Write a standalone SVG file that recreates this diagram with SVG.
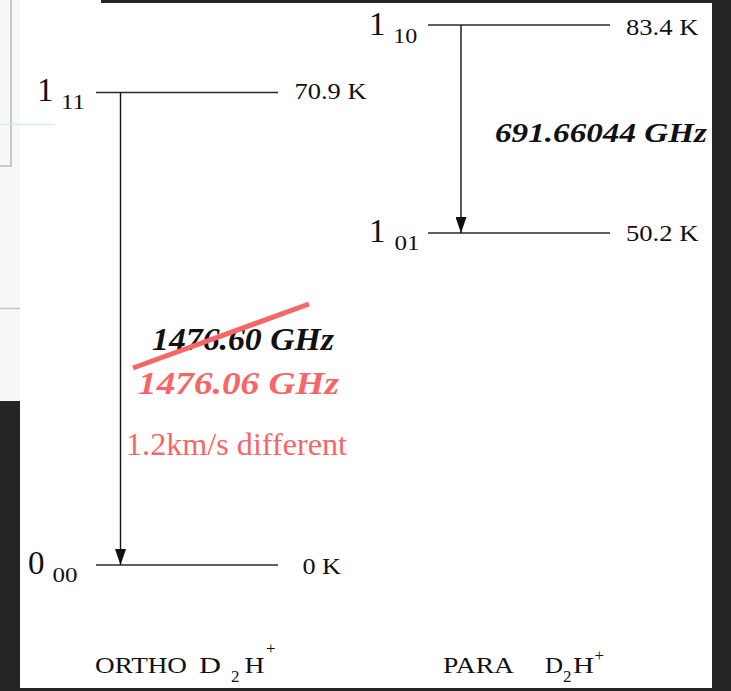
<svg xmlns="http://www.w3.org/2000/svg" width="731" height="691" viewBox="0 0 731 691">
<defs>
<style>
.t{font-family:"Liberation Serif","Times New Roman",serif;fill:#111}
.big{font-size:33px}
.sub{font-size:20px}
.val{font-size:24px}
.bi{font-weight:bold;font-style:italic}
.red{fill:#f76666}
.lvl{stroke:#2a2a2a;stroke-width:1.3;fill:none}
.arr{stroke:#111;stroke-width:1.4;fill:none}
.lbl{font-size:24px}
.ss{font-size:17px}
</style>
<marker id="ah" markerUnits="userSpaceOnUse" markerWidth="16" markerHeight="11" refX="16" refY="5.5" orient="auto">
<path d="M0,0 L16,5.5 L0,11 z" fill="#111"/>
</marker>
</defs>
<g id="background">
<rect x="0" y="0" width="731" height="691" fill="#ffffff"/>
<rect x="0" y="0" width="20" height="401" fill="#f8f8f8"/>
<line x1="11" y1="0" x2="11" y2="166" stroke="#c8c8c8" stroke-width="2"/>
<line x1="0" y1="166" x2="12" y2="166" stroke="#c8c8c8" stroke-width="2"/>
<line x1="0" y1="124.5" x2="55" y2="124.5" stroke="#d8eed8" stroke-width="1.5"/>
<line x1="0" y1="308.5" x2="20" y2="308.5" stroke="#c4c4c4" stroke-width="1.5"/>
<rect x="0" y="401" width="20" height="290" fill="#252525"/>
<rect x="101" y="0" width="630" height="3" fill="#252525"/>
<rect x="712" y="0" width="19" height="691" fill="#252525"/>
<rect x="0" y="688" width="731" height="3" fill="#252525"/>
</g>
<g id="level-1-11">
<line class="lvl" x1="96" y1="92.5" x2="278" y2="92.5"/>
<text class="t big" x="37" y="101">1</text>
<text class="t sub" x="61" y="108.5" textLength="24" lengthAdjust="spacingAndGlyphs">11</text>
<text class="t val" x="294.5" y="99" textLength="72" lengthAdjust="spacingAndGlyphs">70.9 K</text>
</g>
<g id="level-0-00">
<line class="lvl" x1="96" y1="565" x2="278" y2="565"/>
<text class="t big" x="28" y="574">0</text>
<text class="t sub" x="52.4" y="582" textLength="25" lengthAdjust="spacingAndGlyphs">00</text>
<text class="t val" x="302.4" y="574" textLength="38.6" lengthAdjust="spacingAndGlyphs">0 K</text>
</g>
<g id="level-1-10">
<line class="lvl" x1="428" y1="25" x2="610" y2="25"/>
<text class="t big" x="369" y="35">1</text>
<text class="t sub" x="393.3" y="43" textLength="24" lengthAdjust="spacingAndGlyphs">10</text>
<text class="t val" x="626" y="35" textLength="72.4" lengthAdjust="spacingAndGlyphs">83.4 K</text>
</g>
<g id="level-1-01">
<line class="lvl" x1="428" y1="233" x2="610" y2="233"/>
<text class="t big" x="369" y="242">1</text>
<text class="t sub" x="394.4" y="250" textLength="25" lengthAdjust="spacingAndGlyphs">01</text>
<text class="t val" x="626" y="240.5" textLength="72.4" lengthAdjust="spacingAndGlyphs">50.2 K</text>
</g>
<g id="connectors">
<line class="arr" x1="120.5" y1="92.5" x2="120.5" y2="565" marker-end="url(#ah)"/>
<line class="arr" x1="461" y1="25" x2="461" y2="233" marker-end="url(#ah)"/>
</g>
<g id="label-para-transition">
<text class="t bi" style="font-size:28px" x="495" y="142" textLength="212" lengthAdjust="spacingAndGlyphs">691.66044 GHz</text>
</g>
<g id="label-ortho-transition">
<text class="t bi" style="font-size:32px" x="152" y="350" textLength="182" lengthAdjust="spacingAndGlyphs">1476.60 GHz</text>
<line x1="133" y1="368" x2="309" y2="304" stroke="#f76666" stroke-width="5"/>
<text class="t bi red" style="font-size:32px" x="138" y="394" textLength="201" lengthAdjust="spacingAndGlyphs">1476.06 GHz</text>
<text class="t red" style="font-size:31px" x="126" y="455" textLength="221" lengthAdjust="spacingAndGlyphs">1.2km/s different</text>
</g>
<g id="label-ortho">
<text class="t lbl" x="95" y="672.7" textLength="92" lengthAdjust="spacingAndGlyphs">ORTHO</text>
<text class="t lbl" x="199" y="672.7" textLength="22" lengthAdjust="spacingAndGlyphs">D</text>
<text class="t ss" x="231" y="681.7">2</text>
<text class="t lbl" x="244.5" y="672.7" textLength="20" lengthAdjust="spacingAndGlyphs">H</text>
<text class="t ss" x="266" y="654">+</text>
</g>
<g id="label-para">
<text class="t lbl" x="443" y="673.3" textLength="71" lengthAdjust="spacingAndGlyphs">PARA</text>
<text class="t lbl" x="545" y="673.3" textLength="18" lengthAdjust="spacingAndGlyphs">D</text>
<text class="t ss" x="563" y="681.7">2</text>
<text class="t lbl" x="573" y="673.3" textLength="21" lengthAdjust="spacingAndGlyphs">H</text>
<text class="t ss" x="594.5" y="661">+</text>
</g>
</svg>
